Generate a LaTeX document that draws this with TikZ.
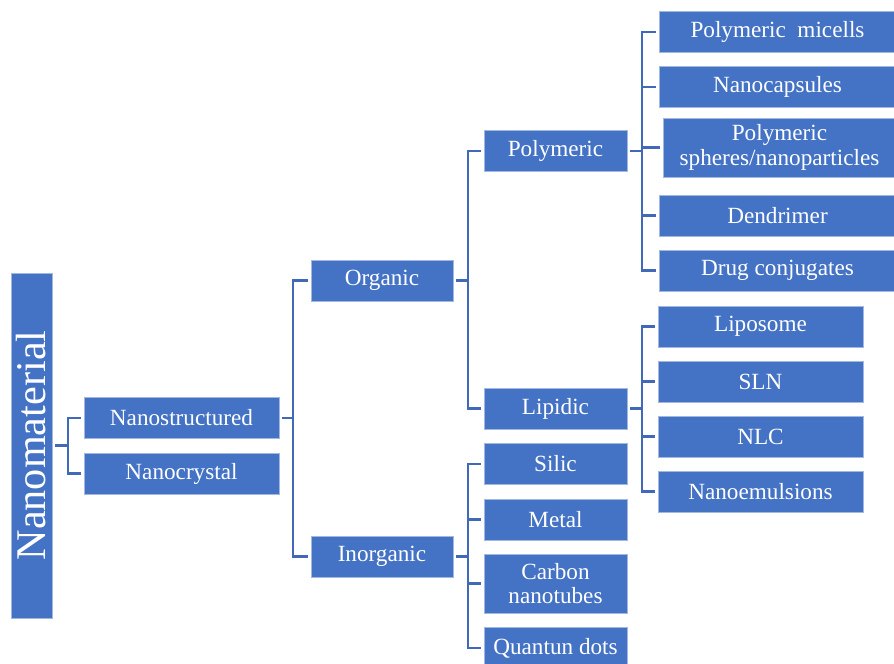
\documentclass[tikz,border=0pt]{standalone}
\usepackage{graphicx}
\usepackage{fontspec}
\setmainfont{Liberation Serif}
\usetikzlibrary{calc}
\definecolor{boxblue}{HTML}{4472C4}
\definecolor{linkblue}{HTML}{4169B8}
\tikzset{
	box/.style={fill=boxblue, draw=boxblue!50!white, line width=0.6pt, text=white, inner sep=0pt,
		minimum height=30.75pt, align=center, font=\fontsize{17.4}{18.6}\selectfont},
	link/.style={draw=linkblue, line width=1.6pt}
}
% parent, bus coordinate, list of children
\def\branch#1#2#3{\foreach \c in {#3} \draw[link] ([xshift=2.25pt]#1.east) -- (#1.east -| #2) |- ([xshift=-2.25pt]\c.west);}

\begin{document}
\begin{tikzpicture}[x=0.75pt, y=-0.75pt]
			%%%%% START %%%%%
			\path[use as bounding box, fill=white] (0, 0) rectangle (894, 664);
			
			\node[box, minimum width=30.75pt, minimum height=258.75pt] (mat) at (31.5, 445.5) {\rotatebox{90}{\fontsize{31.7}{36}\selectfont Nanomaterial}};
			
			\node[box, minimum width=146.25pt] (nstr) at (181.5, 418) {Nanostructured};
			\node[box, minimum width=146.25pt] (ncry) at (181.5, 473.5) {Nanocrystal};
			
			\node[box, minimum width=106.5pt] (org) at (382, 280.5) {Organic};
			\node[box, minimum width=106.5pt] (inorg) at (382, 556.5) {Inorganic};
			
			\node[box, minimum width=107.25pt] (poly) at (555.5, 151) {Polymeric};
			\node[box, minimum width=107.25pt] (lip) at (555.5, 408.5) {Lipidic};
			\node[box, minimum width=107.25pt] (silic) at (555.5, 464) {Silic};
			\node[box, minimum width=107.25pt] (metal) at (555.5, 519.5) {Metal};
			\node[box, minimum width=107.25pt, minimum height=44.25pt] (carb) at (555.5, 583.5) {Carbon\\nanotubes};
			\node[box, minimum width=107.25pt] (qdot) at (555.5, 648) {Quantun dots};
			
			\node[box, minimum width=177pt] (mic) at (777.5, 32) {Polymeric\ \ micells};
			\node[box, minimum width=177pt] (caps) at (777.5, 87) {Nanocapsules};
			\node[box, minimum width=174pt, minimum height=44.25pt] (sph) at (779.5, 147.5) {Polymeric\\spheres/nanoparticles};
			\node[box, minimum width=177pt] (dend) at (777.5, 215.5) {Dendrimer};
			\node[box, minimum width=177pt] (drug) at (777.5, 270.5) {Drug conjugates};
			
			\node[box, minimum width=153.75pt] (lipo) at (760.5, 326.5) {Liposome};
			\node[box, minimum width=153.75pt] (sln) at (760.5, 381.5) {SLN};
			\node[box, minimum width=153.75pt] (nlc) at (760.5, 436.5) {NLC};
			\node[box, minimum width=153.75pt] (emul) at (760.5, 491.5) {Nanoemulsions};
			
			\coordinate (bus1) at (68, 0);
			\coordinate (bus2) at (293, 0);
			\coordinate (bus3) at (468, 0);
			\coordinate (bus4) at (642, 0);
			
			\branch{mat}{bus1}{nstr, ncry}
			\branch{nstr}{bus2}{org, inorg}
			\branch{org}{bus3}{poly, lip}
			\branch{inorg}{bus3}{silic, metal, carb, qdot}
			\branch{poly}{bus4}{mic, caps, sph, dend, drug}
			\branch{lip}{bus4}{lipo, sln, nlc, emul}
			
			%%%%% END %%%%%
\end{tikzpicture}
\end{document}
